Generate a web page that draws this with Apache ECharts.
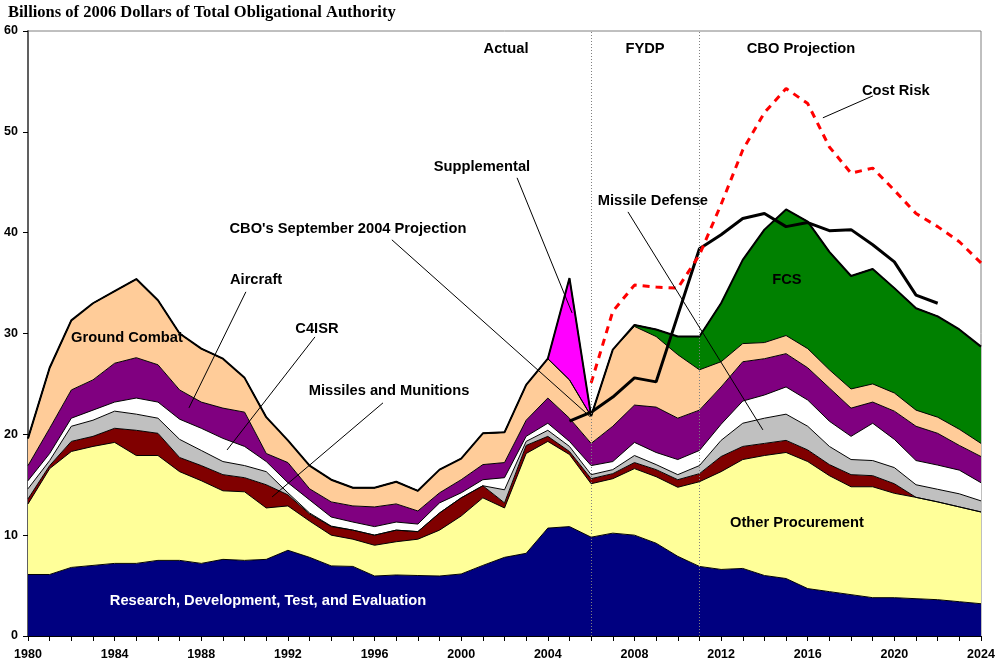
<!DOCTYPE html>
<html>
<head>
<meta charset="utf-8">
<script src="https://cdn.jsdelivr.net/npm/echarts@6/dist/echarts.min.js"></script>
<style>
html, body { margin: 0; padding: 0; background: #fff; }
#main { width: 1003px; height: 671px; }
</style>
</head>
<body>
<div id="main"></div>
<script>
// data, billions of 2006 dollars
var years = [1980, 1981, 1982, 1983, 1984, 1985, 1986, 1987, 1988, 1989,
    1990, 1991, 1992, 1993, 1994, 1995, 1996, 1997, 1998, 1999,
    2000, 2001, 2002, 2003, 2004, 2005, 2006, 2007, 2008, 2009,
    2010, 2011, 2012, 2013, 2014, 2015, 2016, 2017, 2018, 2019,
    2020, 2021, 2022, 2023, 2024];

var rdte = [6.1, 6.1, 6.8, 7.0, 7.2, 7.2, 7.5, 7.5, 7.2, 7.6,
    7.5, 7.6, 8.5, 7.8, 6.95, 6.9, 5.95, 6.05, 6.0, 5.95,
    6.15, 7.0, 7.8, 8.2, 10.7, 10.85, 9.8, 10.2, 10.0, 9.2,
    7.9, 6.9, 6.6, 6.7, 6.0, 5.7, 4.7, 4.4, 4.1, 3.8,
    3.8, 3.7, 3.6, 3.4, 3.2];
var otherProc = [7.0, 10.5, 11.5, 11.8, 12.0, 10.7, 10.4, 8.8, 8.2, 6.8,
    6.8, 5.1, 4.4, 3.6, 3.05, 2.7, 3.05, 3.3, 3.6, 4.55,
    5.75, 6.7, 4.9, 9.9, 8.6, 7.15, 5.3, 5.4, 6.6, 6.6,
    6.85, 8.4, 9.7, 10.8, 11.9, 12.5, 12.6, 11.5, 10.7, 11.0,
    10.35, 10.05, 9.7, 9.4, 9.1];
var missiles = [0.5, 0.3, 1.0, 1.0, 1.4, 2.5, 2.2, 1.4, 1.5, 1.6,
    1.4, 2.3, 1.1, 0.7, 0.85, 0.9, 1.0, 1.15, 0.75, 1.7,
    1.8, 1.2, 0.5, 0.8, 0.5, 0.3, 0.5, 0.5, 0.6, 0.7,
    0.75, 0.8, 1.5, 1.3, 1.2, 1.2, 1.15, 1.1, 1.2, 1.1,
    0.95, 0, 0, 0, 0];
var missileDef = [1.0, 0.5, 1.5, 1.6, 1.7, 1.6, 1.5, 1.8, 1.5, 1.3,
    1.2, 1.3, 0.2, 0.1, 0.05, 0, 0, 0, 0, 0,
    0, 0, 1.3, 0.4, 0.6, 0.5, 0.4, 0.4, 0.7, 0.5,
    0.5, 0.8, 1.6, 2.3, 2.5, 2.6, 2.35, 1.8, 1.5, 1.5,
    1.6, 1.25, 1.25, 1.3, 1.1];
var c4isr = [0.8, 0.7, 0.8, 1.0, 0.9, 1.6, 1.6, 2.0, 2.2, 2.3,
    1.9, 1.0, 1.0, 1.3, 0.9, 0.8, 0.85, 0.8, 0.75, 1.0,
    0.5, 0.6, 1.2, 0.5, 0.7, 0.5, 0.9, 0.8, 1.3, 1.2,
    1.5, 1.5, 1.6, 2.2, 2.3, 2.7, 2.6, 2.5, 2.3, 3.7,
    2.8, 2.4, 2.4, 2.35, 1.8];
var aircraft = [1.5, 2.5, 2.8, 3.0, 3.85, 4.0, 3.7, 2.9, 2.6, 3.0,
    3.4, 0.8, 2.0, 1.1, 1.5, 1.6, 1.95, 1.8, 1.3, 1.0,
    1.3, 1.5, 1.5, 1.6, 2.5, 2.3, 2.2, 3.5, 3.7, 4.5,
    4.1, 4.0, 3.7, 3.9, 3.6, 3.3, 3.2, 3.3, 2.8, 2.1,
    2.8, 3.4, 3.15, 2.45, 2.6];
var groundCombat = [2.7, 6.0, 6.9, 7.6, 7.15, 7.8, 6.4, 5.6, 5.3, 4.9,
    3.4, 3.6, 2.2, 2.3, 2.2, 1.8, 1.9, 2.2, 2.0, 2.3,
    2.1, 3.1, 3.0, 3.5, 3.9, 3.8, 2.7, 7.6, 7.8, 7.0,
    6.3, 4.0, 2.5, 1.8, 1.6, 1.8, 1.9, 1.8, 1.9, 1.8,
    1.8, 1.6, 1.6, 1.6, 1.3];
var fcs = [0, 0, 0, 0, 0, 0, 0, 0, 0, 0,
    0, 0, 0, 0, 0, 0, 0, 0, 0, 0,
    0, 0, 0, 0, 0, 0, 0, 0, 0.15, 0.7,
    1.8, 3.3, 5.8, 8.3, 11.2, 12.5, 12.6, 11.7, 11.2, 11.4,
    10.4, 10.1, 10.0, 9.9, 9.6];
var supplemental = [0, 0, 0, 0, 0, 0, 0, 0, 0, 0,
    0, 0, 0, 0, 0, 0, 0, 0, 0, 0,
    0, 0, 0, 0, 0, 10.1, 0, 0, 0, 0,
    0, 0, 0, 0, 0, 0, 0, 0, 0, 0,
    0, 0, 0, 0, 0];

// CBO's September 2004 projection, 2005-2022
var cboYears = [2005, 2006, 2007, 2008, 2009, 2010, 2011, 2012, 2013,
    2014, 2015, 2016, 2017, 2018, 2019, 2020, 2021, 2022];
var cboProj = [21.3, 22.2, 23.7, 25.6, 25.2, 31.8, 38.4, 39.8, 41.4,
    41.9, 40.6, 41.0, 40.2, 40.3, 38.8, 37.1, 33.8, 33.0];

// cost risk, 2006-2024
var riskYears = [2006, 2007, 2008, 2009, 2010, 2011, 2012, 2013, 2014, 2015,
    2016, 2017, 2018, 2019, 2020, 2021, 2022, 2023, 2024];
var costRisk = [25.1, 32.2, 34.8, 34.6, 34.5, 37.8, 42.8, 48.2, 51.9, 54.3,
    52.8, 48.5, 45.9, 46.4, 44.2, 41.9, 40.6, 39.1, 37.0];

var yTicks = [0, 10, 20, 30, 40, 50, 60];
var periodBreaks = [2006, 2011];

// text labels, placed in data coordinates [year, value]
var notes = [
    { text: 'Actual', at: [2002.07, 58.2] },
    { text: 'FYDP', at: [2008.49, 58.2] },
    { text: 'CBO Projection', at: [2015.69, 58.2] },
    { text: 'Cost Risk', at: [2020.07, 54.1] },
    { text: 'Supplemental', at: [2000.96, 46.5] },
    { text: "CBO's September 2004 Projection", at: [1994.77, 40.4] },
    { text: 'Missile Defense', at: [2008.85, 43.15] },
    { text: 'Aircraft', at: [1990.53, 35.3] },
    { text: 'C4ISR', at: [1993.34, 30.46] },
    { text: 'Missiles and Munitions', at: [1996.67, 24.3] },
    { text: 'Ground Combat', at: [1984.57, 29.56] },
    { text: 'FCS', at: [2015.04, 35.3] },
    { text: 'Other Procurement', at: [2015.5, 11.2] },
    { text: 'Research, Development, Test, and Evaluation', at: [1991.08, 3.47], color: '#fff' }
];
// leader lines from label to area
var leaders = [
    [[2002.58, 45.44], [2005.12, 32.04]],
    [[1996.8, 39.29], [2005.95, 21.76]],
    [[2007.7, 42.06], [2013.93, 20.44]],
    [[1990.06, 34.13], [1987.43, 22.62]],
    [[1993.25, 29.66], [1989.19, 18.45]],
    [[1996.39, 23.12], [1991.27, 13.79]],
    [[2019.01, 53.57], [2016.7, 51.39]]
];

var FONT = '"Liberation Sans", Arial, sans-serif';

function pairs(xs, vs) {
    return xs.map(function (x, i) { return [x, vs[i]]; });
}

function layer(name, vals, color) {
    return {
        name: name,
        type: 'line',
        stack: 'all',
        symbol: 'none',
        animation: false,
        xAxisIndex: 0,
        data: vals,
        lineStyle: { color: '#000', width: 1 },
        itemStyle: { color: color },
        areaStyle: { color: color, opacity: 1 }
    };
}

var layers = [rdte, otherProc, missiles, missileDef, c4isr, aircraft, groundCombat, fcs, supplemental];
var total = years.map(function (y, i) {
    var s = 0;
    layers.forEach(function (l) { s += l[i]; });
    return Math.round(s * 100) / 100;
});

var chart = echarts.init(document.getElementById('main'));

var option = {
    backgroundColor: '#fff',
    animation: false,
    title: {
        text: 'Billions of 2006 Dollars of Total Obligational Authority',
        left: 8,
        top: 4,
        padding: 0,
        textStyle: { fontFamily: '"Liberation Serif", "Times New Roman", serif', fontWeight: 'bold', fontSize: 16.5, color: '#000' }
    },
    grid: {
        left: 28, right: 22, top: 31, bottom: 35,
        show: true, borderColor: '#808080', borderWidth: 1, backgroundColor: '#fff'
    },
    xAxis: [{
        type: 'category',
        data: years,
        boundaryGap: false,
        axisLine: { lineStyle: { color: '#000', width: 1 } },
        axisTick: { interval: 0, length: 5, lineStyle: { color: '#000' } },
        splitLine: { show: false },
        axisLabel: {
            interval: 3, margin: 12,
            color: '#000', fontFamily: FONT, fontWeight: 'bold', fontSize: 12.5
        }
    }, {
        // plain year scale for the lines and notes, same span as the categories
        type: 'value', min: 1980, max: 2024, show: false
    }],
    yAxis: {
        type: 'value',
        min: yTicks[0], max: yTicks[yTicks.length - 1], interval: 10,
        axisLine: { show: true, lineStyle: { color: '#606060', width: 2 } },
        axisTick: { show: true, length: 5, lineStyle: { color: '#000' } },
        splitLine: { show: false },
        axisLabel: { margin: 10, color: '#000', fontFamily: FONT, fontWeight: 'bold', fontSize: 12.5 }
    },
    series: [
        layer('Research, Development, Test, and Evaluation', rdte, '#000080'),
        layer('Other Procurement', otherProc, '#ffff99'),
        layer('Missiles and Munitions', missiles, '#800000'),
        layer('Missile Defense', missileDef, '#c0c0c0'),
        layer('C4ISR', c4isr, '#ffffff'),
        layer('Aircraft', aircraft, '#800080'),
        layer('Ground Combat', groundCombat, '#ffcc99'),
        layer('FCS', fcs, '#008000'),
        layer('Supplemental', supplemental, '#ff00ff'),
        {
            name: 'Total',
            type: 'line', symbol: 'none', animation: false,
            xAxisIndex: 1,
            data: pairs(years, total),
            lineStyle: { color: '#000', width: 2 },
            markLine: {
                silent: true, symbol: 'none', animation: false,
                label: { show: false },
                lineStyle: { color: '#808080', type: [1, 2], width: 1 },
                data: periodBreaks.map(function (y) { return { xAxis: y }; })
            }
        },
        {
            name: "CBO's September 2004 Projection",
            type: 'line', symbol: 'none', animation: false,
            xAxisIndex: 1,
            data: pairs(cboYears, cboProj),
            lineStyle: { color: '#000', width: 3 },
            markLine: {
                silent: true, symbol: 'none', animation: false,
                label: { show: false },
                lineStyle: { color: '#000', type: 'solid', width: 1 },
                data: leaders.map(function (l) { return [{ coord: l[0] }, { coord: l[1] }]; })
            }
        },
        {
            name: 'Cost Risk',
            type: 'line', symbol: 'none', animation: false,
            xAxisIndex: 1,
            data: pairs(riskYears, costRisk),
            lineStyle: { color: '#ff0000', width: 3, type: [7, 6] }
        }
    ]
};

chart.setOption(option);

// place the text notes through the grid's scales
var g = notes.map(function (n) {
    var p = chart.convertToPixel({ xAxisIndex: 1, yAxisIndex: 0 }, n.at);
    return {
        type: 'text', x: p[0], y: p[1], z: 100, silent: true,
        style: {
            text: n.text, fill: n.color || '#000',
            font: 'bold 14.7px ' + FONT,
            align: 'center', verticalAlign: 'middle',
            textAlign: 'center', textVerticalAlign: 'middle'
        }
    };
});
chart.setOption({ graphic: g });
</script>
</body>
</html>
